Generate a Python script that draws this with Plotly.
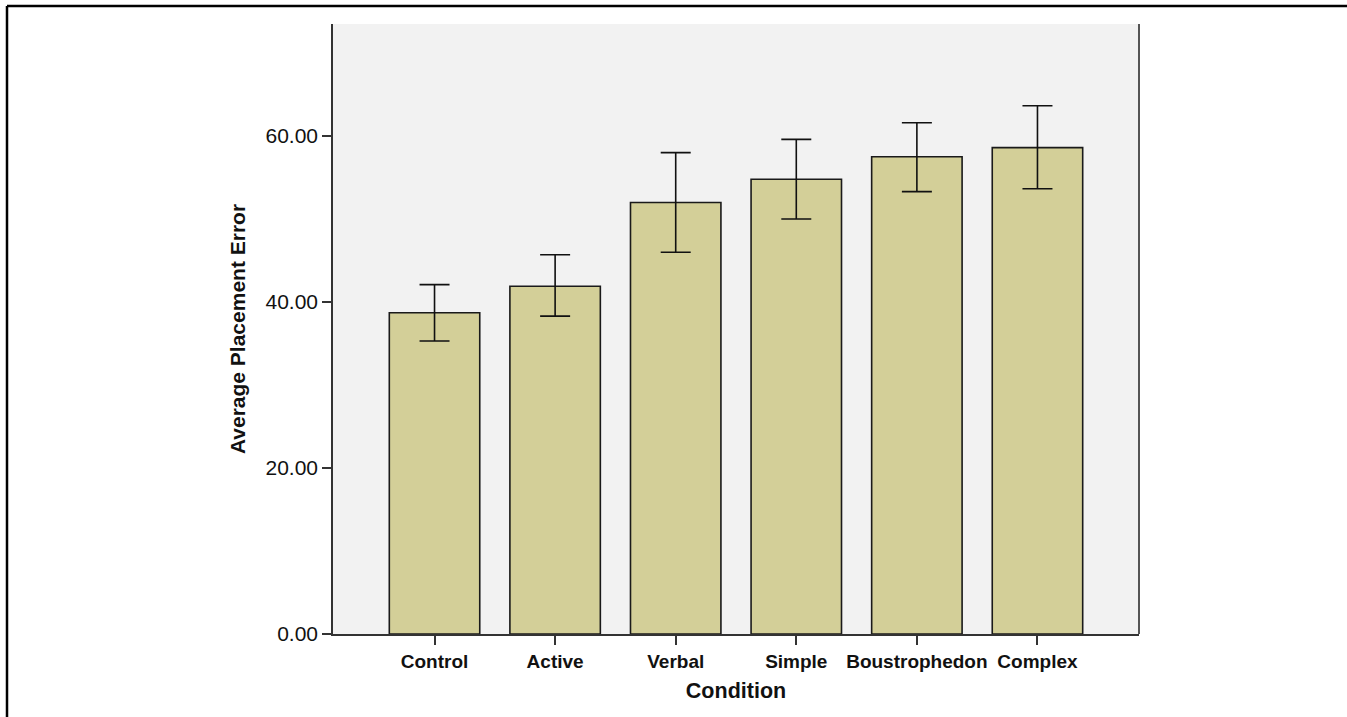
import plotly.graph_objects as go

conditions = ["Control", "Active", "Verbal", "Simple", "Boustrophedon", "Complex"]
means = [38.7, 41.9, 52.0, 54.8, 57.5, 58.6]
err_plus = [3.4, 3.8, 6.0, 4.8, 4.1, 5.05]
err_minus = [3.4, 3.6, 6.0, 4.8, 4.2, 4.95]
y_ticks = [0, 20, 40, 60]

W, H = 1347, 717
L, R, T, B = 333, 208, 24, 83
pw, ph = W - L - R, H - T - B

fig = go.Figure()
fig.add_trace(go.Bar(
    x=conditions, y=means,
    marker=dict(color="#D3CF98", line=dict(color="#1a1a1a", width=1.6)),
    error_y=dict(type="data", symmetric=False, array=err_plus, arrayminus=err_minus,
                 color="#111111", thickness=1.6, width=15),
    width=0.75,
))

font_family = "Arial, Liberation Sans, sans-serif"
fig.update_layout(
    width=W, height=H,
    margin=dict(l=L, r=R, t=T, b=B, autoexpand=False),
    paper_bgcolor="white", plot_bgcolor="#F2F2F2",
    showlegend=False,
    font=dict(family=font_family, color="#111111"),
    xaxis=dict(
        range=[-0.842, 5.842], showgrid=False, zeroline=False,
        showline=True, linecolor="#333333", linewidth=2,
        ticks="outside", ticklen=9, tickwidth=2, tickcolor="#333333",
        tickfont=dict(size=19, family=font_family, color="#111111"),
        tickprefix="<b>", ticksuffix="</b>",
        title=dict(text="<b>Condition</b>", font=dict(size=21.5), standoff=12),
        automargin=False,
    ),
    yaxis=dict(
        range=[0, 73.5], showgrid=False, zeroline=False,
        showline=True, linecolor="#333333", linewidth=1.5, mirror=False,
        tickvals=y_ticks, tickformat=".2f",
        ticks="outside", ticklen=9, tickwidth=2, tickcolor="#333333",
        tickfont=dict(size=21, color="#111111"),
        title=dict(text="<b>Average Placement Error</b>", font=dict(size=21), standoff=14),
        automargin=False,
    ),
    bargap=0.25,
)

# right border of plot area
fig.add_shape(type="line", xref="paper", yref="paper", x0=1, x1=1, y0=0, y1=1,
              line=dict(color="#555555", width=2))
# extend bottom axis line slightly left (to the tick)
fig.add_shape(type="line", xref="paper", yref="paper", x0=-10 / pw, x1=0, y0=0, y1=0,
              line=dict(color="#333333", width=2))
# outer frame lines (top and left)
fx = (7 - L) / pw
fy = 1 + (T - 6) / ph
fig.add_shape(type="line", xref="paper", yref="paper", x0=fx, x1=(W + 10 - L) / pw, y0=fy, y1=fy,
              line=dict(color="black", width=2.5))
fig.add_shape(type="line", xref="paper", yref="paper", x0=fx, x1=fx, y0=fy, y1=-(B + 10) / ph,
              line=dict(color="black", width=2.5))

fig.write_html("out.html", config={"displayModeBar": False},
               post_script="document.body.style.margin='0';")
